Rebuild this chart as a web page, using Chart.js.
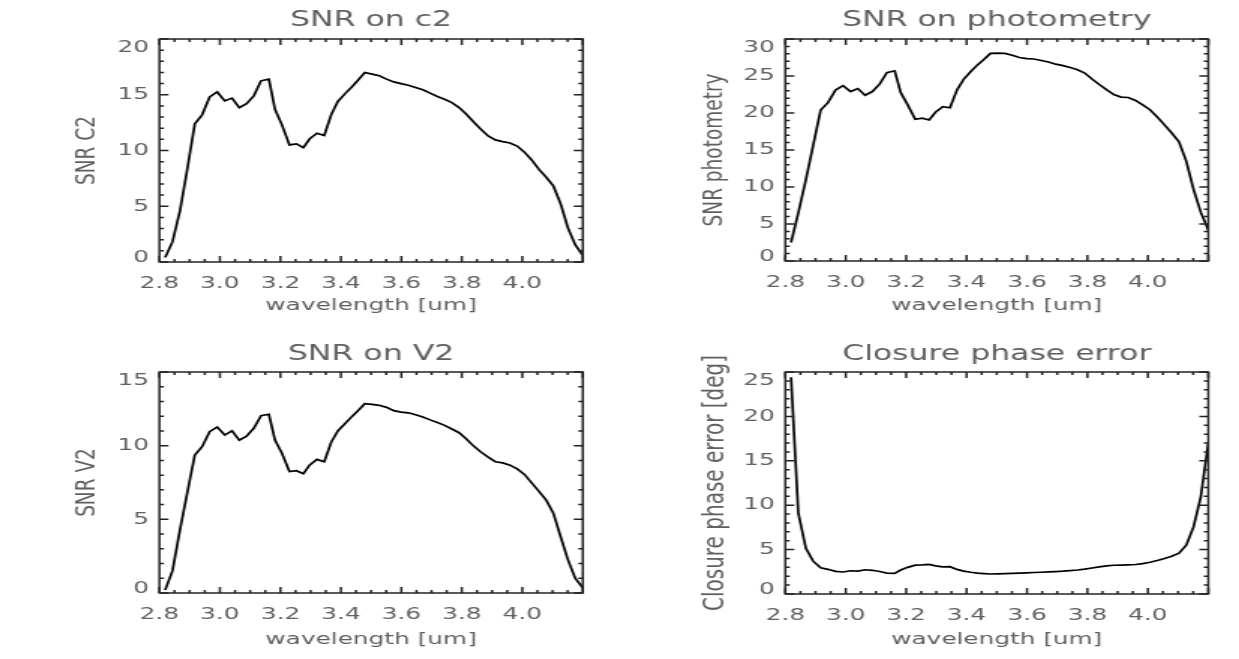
<!DOCTYPE html>
<html>
<head>
<meta charset="utf-8">
<title>SNR on c2, photometry, V2 and closure phase error</title>
<script src="https://cdn.jsdelivr.net/npm/chart.js@4.4.0/dist/chart.umd.min.js"></script>
<style>
  html, body { margin: 0; padding: 0; background: #fff; }
  body { width: 1239px; height: 659px; overflow: hidden; position: relative; }
  /* the original figure is stretched sideways, so each canvas is drawn
     413px wide and shown 1.5x wider */
  canvas { position: absolute; width: 619.5px; }
</style>
</head>
<body>
<canvas id="c1" width="413" height="330" style="left:0;top:0;height:330px"></canvas>
<canvas id="c2" width="413" height="330" style="left:619.5px;top:0;height:330px"></canvas>
<canvas id="c3" width="413" height="329" style="left:0;top:330px;height:329px"></canvas>
<canvas id="c4" width="413" height="329" style="left:619.5px;top:330px;height:329px"></canvas>

<script>
// wavelength grid [um], shared by all four panels
const wavelength = [2.819, 2.843, 2.868, 2.892, 2.917, 2.941, 2.966, 2.991, 3.016, 3.040,
  3.064, 3.088, 3.112, 3.136, 3.162, 3.182, 3.205, 3.230, 3.253, 3.276,
  3.297, 3.321, 3.345, 3.368, 3.390, 3.414, 3.436, 3.458, 3.479, 3.503,
  3.527, 3.551, 3.575, 3.599, 3.623, 3.647, 3.671, 3.695, 3.719, 3.743,
  3.767, 3.791, 3.815, 3.839, 3.863, 3.887, 3.911, 3.935, 3.959, 3.983,
  4.007, 4.031, 4.055, 4.079, 4.103, 4.127, 4.151, 4.175, 4.200];

const snrC2 = [0.4, 1.8, 4.6, 8.3, 12.4, 13.2, 14.8, 15.25, 14.45, 14.7,
  13.85, 14.2, 14.9, 16.25, 16.4, 13.7, 12.3, 10.5, 10.6, 10.25,
  11.05, 11.55, 11.35, 13.2, 14.4, 15.1, 15.7, 16.35, 17.0, 16.85,
  16.7, 16.4, 16.15, 16.0, 15.85, 15.65, 15.45, 15.15, 14.85, 14.6,
  14.3, 13.85, 13.25, 12.55, 11.9, 11.3, 10.95, 10.8, 10.68, 10.4,
  9.85, 9.15, 8.3, 7.6, 6.8, 5.2, 3.05, 1.55, 0.6];

const snrPhotometry = [2.5, 6.5, 11.0, 15.6, 20.4, 21.4, 23.1, 23.7, 22.9, 23.3,
  22.4, 22.9, 23.9, 25.45, 25.7, 22.75, 21.1, 19.15, 19.3, 19.05,
  20.1, 20.85, 20.7, 23.1, 24.55, 25.6, 26.5, 27.25, 28.05, 28.1,
  28.05, 27.8, 27.5, 27.35, 27.3, 27.1, 26.9, 26.6, 26.4, 26.15,
  25.85, 25.4, 24.6, 23.85, 23.15, 22.5, 22.15, 22.1, 21.7, 21.1,
  20.45, 19.45, 18.4, 17.3, 16.1, 13.5, 9.7, 6.6, 4.2];

const snrV2 = [0.2, 1.5, 4.3, 6.8, 9.37, 9.93, 10.95, 11.27, 10.72, 11.0,
  10.38, 10.65, 11.18, 12.04, 12.13, 10.38, 9.48, 8.24, 8.3, 8.1,
  8.69, 9.07, 8.91, 10.23, 11.0, 11.5, 11.97, 12.4, 12.85, 12.8,
  12.74, 12.6, 12.38, 12.28, 12.23, 12.1, 11.95, 11.75, 11.57, 11.38,
  11.13, 10.88, 10.45, 9.97, 9.57, 9.22, 8.91, 8.83, 8.68, 8.42,
  8.05, 7.47, 6.9, 6.3, 5.4, 3.8, 2.25, 1.0, 0.35];

const closurePhaseError = [24.4, 9.1, 5.15, 3.7, 2.95, 2.78, 2.55, 2.48, 2.62, 2.58,
  2.73, 2.67, 2.53, 2.35, 2.32, 2.7, 3.0, 3.25, 3.27, 3.33,
  3.17, 3.05, 3.08, 2.77, 2.58, 2.45, 2.36, 2.3, 2.25, 2.27,
  2.3, 2.33, 2.36, 2.39, 2.42, 2.45, 2.49, 2.53, 2.57, 2.63,
  2.7, 2.8, 2.93, 3.05, 3.16, 3.24, 3.26, 3.29, 3.32, 3.42,
  3.58, 3.77, 4.0, 4.25, 4.6, 5.5, 7.55, 10.9, 17.0];

// tick labels
const xTickValues = [2.8, 3.0, 3.2, 3.4, 3.6, 3.8, 4.0];
const c2YTicks = [0, 5, 10, 15, 20];
const photometryYTicks = [0, 5, 10, 15, 20, 25, 30];
const v2YTicks = [0, 5, 10, 15];
const closureYTicks = [0, 5, 10, 15, 20, 25];

const textColor = '#606060';
const fontFamily = "'DejaVu Sans', sans-serif";

// Frame and inward ticks on all four sides, like an IDL plot box
const idlFrame = {
    id: 'idlFrame',
    afterDatasetsDraw(chart) {
        const { ctx, chartArea: a, scales: { x, y } } = chart;
        ctx.save();
        ctx.strokeStyle = '#222';
        ctx.lineWidth = 1.5;
        ctx.strokeRect(a.left, a.top, a.right - a.left, a.bottom - a.top);

        ctx.beginPath();
        const nx = Math.round((x.max - x.min) / 0.05);
        for (let i = 0; i <= nx; i++) {
            const px = x.getPixelForValue(x.min + i * 0.05);
            const len = i % 4 === 0 ? 6 : 3;
            ctx.moveTo(px, a.bottom); ctx.lineTo(px, a.bottom - len);
            ctx.moveTo(px, a.top); ctx.lineTo(px, a.top + len);
        }
        const ny = Math.round(y.max - y.min);
        for (let i = 0; i <= ny; i++) {
            const py = y.getPixelForValue(y.min + i);
            const len = i % 5 === 0 ? 6 : 3;
            ctx.moveTo(a.left, py); ctx.lineTo(a.left + len, py);
            ctx.moveTo(a.right, py); ctx.lineTo(a.right - len, py);
        }
        ctx.stroke();
        ctx.restore();
    }
};

// fixed axis size, and no extra room asked for overhanging labels
function fixSize(s, key, size) {
    s[key] = size;
    s.paddingTop = 0;
    s.paddingBottom = 0;
    s.paddingLeft = 0;
    s.paddingRight = 0;
}

// Function to build one panel
function makePanel(p) {
    const ctx = document.getElementById(p.canvas).getContext('2d');
    return new Chart(ctx, {
        type: 'line',
        data: {
            datasets: [{
                data: wavelength.map((w, i) => ({ x: w, y: p.values[i] })),
                borderColor: '#000',
                borderWidth: 1.7,
                pointRadius: 0,
                tension: 0,
                fill: false,
            }],
        },
        options: {
            responsive: false,
            animation: false,
            events: [],
            layout: { padding: { left: 0, right: p.box.right, top: 0, bottom: 0 } },
            plugins: {
                legend: { display: false },
                tooltip: { enabled: false },
                title: {
                    display: true,
                    text: p.title,
                    fullSize: false,
                    color: textColor,
                    font: { family: fontFamily, size: 21, weight: 'normal', lineHeight: 1 },
                    padding: p.titlePad,
                },
            },
            scales: {
                x: {
                    type: 'linear',
                    min: 2.8,
                    max: 4.2,
                    afterBuildTicks: (s) => { s.ticks = xTickValues.map((v) => ({ value: v })); },
                    afterFit: (s) => fixSize(s, 'height', p.box.bottom),
                    grid: { display: false, drawTicks: false },
                    border: { display: false },
                    ticks: {
                        autoSkip: false,
                        maxRotation: 0,
                        padding: 13.75,
                        color: textColor,
                        font: { family: fontFamily, size: 16.5, lineHeight: 1 },
                        callback: (v) => v.toFixed(1),
                    },
                    title: {
                        display: true,
                        text: 'wavelength [um]',
                        color: textColor,
                        font: { family: fontFamily, size: 16.5, lineHeight: 1 },
                        padding: { top: 0, bottom: p.xTitlePad },
                    },
                },
                y: {
                    min: 0,
                    max: p.yMax,
                    afterBuildTicks: (s) => { s.ticks = p.yTicks.map((v) => ({ value: v })); },
                    afterFit: (s) => fixSize(s, 'width', p.box.left),
                    grid: { display: false, drawTicks: false },
                    border: { display: false },
                    ticks: {
                        padding: 7,
                        color: textColor,
                        // the end labels sit a little inside the box, as in the original
                        font: (c) => ({
                            family: fontFamily,
                            size: 16.5,
                            lineHeight: c.tick && c.tick.value === 0 ? 0.55 : 1,
                        }),
                        callback: (v) => {
                            if (v === p.yMax) return ['', String(v)];
                            if (v === 0) return [String(v), ''];
                            return String(v);
                        },
                    },
                    title: {
                        display: true,
                        text: p.yTitle,
                        color: textColor,
                        font: { family: fontFamily, size: p.yTitleSize, lineHeight: 1 },
                        padding: { top: p.yTitlePad, bottom: 0 },
                    },
                },
            },
        },
        plugins: [idlFrame],
    });
}

makePanel({
    canvas: 'c1', title: 'SNR on c2', yTitle: 'SNR C2', yTitleSize: 18.5,
    values: snrC2, yMax: 20, yTicks: c2YTicks,
    box: { left: 106.2, right: 24.8, bottom: 68 },
    titlePad: { top: 10, bottom: 8 }, yTitlePad: 48.75, xTitlePad: 15.75,
});
makePanel({
    canvas: 'c2', title: 'SNR on photometry', yTitle: 'SNR photometry', yTitleSize: 18.5,
    values: snrPhotometry, yMax: 30, yTicks: photometryYTicks,
    box: { left: 110.3, right: 20.5, bottom: 69 },
    titlePad: { top: 10, bottom: 8 }, yTitlePad: 53.5, xTitlePad: 15.75,
});
makePanel({
    canvas: 'c3', title: 'SNR on V2', yTitle: 'SNR V2', yTitleSize: 18.5,
    values: snrV2, yMax: 15, yTicks: v2YTicks,
    box: { left: 106.2, right: 24.8, bottom: 66 },
    titlePad: { top: 14.2, bottom: 6.8 }, yTitlePad: 48.75, xTitlePad: 11.5,
});
makePanel({
    canvas: 'c4', title: 'Closure phase error', yTitle: 'Closure phase error [deg]', yTitleSize: 20,
    values: closurePhaseError, yMax: 25, yTicks: closureYTicks,
    box: { left: 110.3, right: 20.5, bottom: 65 },
    titlePad: { top: 14.2, bottom: 6.8 }, yTitlePad: 53.3, xTitlePad: 11.5,
});
</script>
</body>
</html>
